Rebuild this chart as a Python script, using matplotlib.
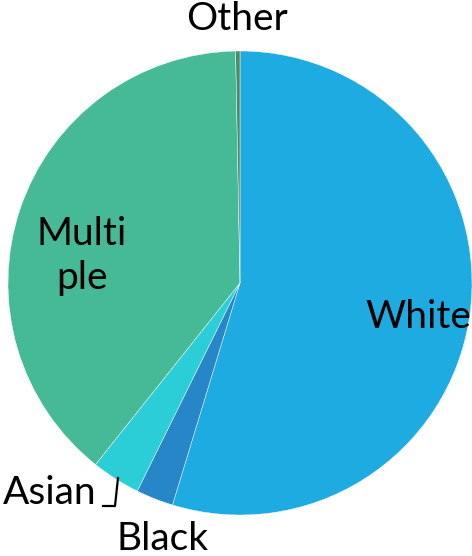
import matplotlib
matplotlib.use("Agg")
import matplotlib.pyplot as plt
from matplotlib.lines import Line2D

# Share of respondents by race (percent), clockwise from 12 o'clock
categories = ["White", "Black", "Asian", "Multiple", "Other"]
shares = [54.7, 2.6, 3.4, 39.0, 0.3]
colors = ["#1eabe2", "#2686c8", "#2bcdd7", "#46ba96", "#4f8d5c"]

W, H = 472, 556
fig = plt.figure(figsize=(W / 100, H / 100), dpi=100)
ax = fig.add_axes([0, 0, 1, 1])

# pie centre and radius in pixels
cx, cy, r = 240, 283, 232

ax.pie(shares, colors=colors, startangle=90, counterclock=False,
       radius=1, center=(0, 0), frame=True,
       wedgeprops=dict(edgecolor="white", linewidth=0.3))
ax.set_xlim(-cx / r, (W - cx) / r)
ax.set_ylim(-(H - cy) / r, cy / r)
ax.set_aspect("equal")
ax.axis("off")

font = dict(family=["Lato", "DejaVu Sans"], fontsize=28, color="black")


def px(x, y):
    return x / W, 1 - y / H


label_pos = {
    "Other": (237, 19),
    "White": (418, 317),
    "Multi\nple": (82, 256),
    "Asian": (50, 493),
    "Black": (163, 539),
}
for text, (x, y) in label_pos.items():
    fx, fy = px(x, y)
    fig.text(fx, fy, text, ha="center", va="center", multialignment="center",
             linespacing=1.3, **font)

# leader line from the Asian label to its slice
pts = [px(118, 478), px(115, 506), px(103, 506)]
fig.lines.append(Line2D([p[0] for p in pts], [p[1] for p in pts],
                        transform=fig.transFigure, color="black", lw=1.6))

fig.savefig("out.png", dpi=100)
